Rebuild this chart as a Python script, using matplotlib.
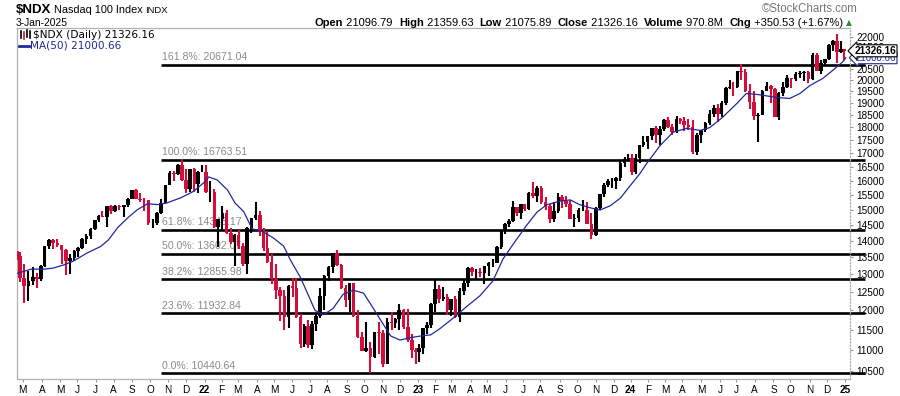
import numpy as np
import pandas as pd
import matplotlib
matplotlib.use('Agg')
import matplotlib.pyplot as plt
import matplotlib.transforms as mtransforms
from matplotlib.lines import Line2D
from matplotlib.offsetbox import TextArea, HPacker, AnchoredOffsetbox
from pandas.tseries.offsets import CustomBusinessDay
from pandas.tseries.holiday import (AbstractHolidayCalendar, Holiday, nearest_workday, sunday_to_monday,
                                    USMartinLutherKingJr, USPresidentsDay, GoodFriday, USMemorialDay,
                                    USLaborDay, USThanksgivingDay)

plt.rcParams['font.family'] = ['Liberation Sans', 'DejaVu Sans']

# weekly bars (week ending friday)
first_open = 13700
close21 = [13535,12909,12668,12819,12916,12870,13247,13845,14042,13945,13861,13720,13379,13471,13687,13773,
           14069,14142,14361,14659,14803,14773,15117,14959,15131,15106,15162,15375,15652,15363,15334,15314,
           14567,14579,14897,15225,15850,16280,16247,16573,16026,15712,16410,15880,16319,16320]
high21 = [13700,13660,13300,13100,13200,13050,13270,13850,14060,14060,14060,13870,13750,13600,13730,13800,
          14080,14200,14400,14660,14820,14960,15120,15150,15150,15150,15170,15380,15660,15700,15560,15390,
          15340,14700,14910,15360,15850,16350,16330,16600,16764,16410,16430,16450,16350,16573]
low21 = [13430,12780,12209,12250,12700,12600,12820,13200,13750,13750,13800,13300,12980,13000,13400,13500,
         13750,13900,14050,14350,14600,14750,14450,14850,14930,15000,14750,15100,15350,15350,15250,14950,
         14500,14400,14500,14850,15200,15840,15980,16200,16000,15570,15600,15600,15560,16300]

close22 = [15594,15612,14439,14707, 14876,14253,13980,14173, 13838,13301,14420,14716,
           14838,14289,13793,13358,12855, 12557,12387,11835,12681, 12621,11830,11132,11607,
           11128,11635,11847,12396,12948, 13207,13630,13257,12605, 12271,12746,11861,11311,10972,
           11038,10821,11431,11404, 10670,11700,11680,11786, 12001,11563,11246,10986,10940]
high22 = [16573,15970,15700,14710, 15120,15000,14400,14200, 14350,13920,14430,14720,
          15265,14950,14400,14300,13600, 13300,12630,12550,12690, 12900,12900,11900,11650,
          11760,11720,11900,12600,12970, 13250,13640,13720,13300, 12700,12760,12760,12000,11450,
          11700,11180,11450,11700, 11500,11800,11950,11800, 12170,12050,12040,11380,11050]
low22 = [15550,15250,14420,13800, 14300,14220,13900,13250, 13750,13250,13020,14250,
         14650,14150,13700,13330,12720, 12300,11730,11500,11550, 12370,11800,11040,11070,
         11050,11030,11460,11800,12000, 12800,13050,13240,12590, 12080,11950,11830,11280,10970,
         10950,10441,10800,10900, 10600,10650,11480,11550, 11500,11520,11180,10800,10670]

close23 = [11040,11541,11620,12167, 12573,12304,12359,12008, 12302,11830,12520,12767,13181,
           13062,13079,13030,13246, 13339,13341,13812,14298, 14547,14634,15084,14892,15179,
           15037,15566,15451,15755, 15274,15128,14695,14941, 15413,15290,15203,14701,14715,
           14987,14996,14542,14181, 15058,15520,15840,15983, 15997,16085,16624,16778,16826]
high23 = [11150,11550,11700,12200, 12880,12700,12650,12450, 12320,12400,12620,12850,13200,
          13200,13150,13190,13250, 13360,13460,13840,14330, 14550,14700,15285,15100,15200,
          15200,15600,15932,15800, 15800,15440,15200,15250, 15560,15500,15460,15320,14850,
          15050,15310,15250,14880, 15080,15530,15900,16050, 16090,16130,16700,16860,16970]
low23 = [10700,10900,11400,11540, 11950,12200,12250,11870, 11860,11800,11700,12420,12650,
         12950,12880,12920,12720, 12960,13200,13330,13740, 14200,14450,14600,14800,14700,
         14950,15000,15400,15250, 15190,14990,14560,14600, 14900,15050,15100,14680,14430,
         14600,14950,14520,14060, 14150,14980,15440,15780, 15750,15700,15980,16480,16700]

close24 = [16305,16832,17314,17421, 17643,17963,17685,17937, 18302,18019,17808,18339,18255,
           18108,18003,17037,17718, 17891,18161,18546,18808,18537, 19000,19659,19700,19683,
           20392,20332,19522,19023, 18440,18513,19509,19721,19575, 18421,19442,19701,20069,
           20035,20272,20325,20352, 20033,21118,20394,20744,20930, 21622,21780,21290,21393, 21326.16]
high24 = [16970,16970,17330,17650, 17670,17990,18040,18040, 18320,18420,18150,18460,18360,
          18400,18350,18300,17780, 17900,18200,18690,18900,18950, 19100,19700,20000,19900,
          20400,20690,20500,19800, 19500,18600,19550,19900,19750, 19650,19460,19900,20200,
          20100,20330,20400,20400, 20400,21200,21200,20900,20950, 21660,21850,22133,21800, 21400]
low24 = [16200,16250,16640,17250, 17140,17490,17400,17300, 17850,17990,17700,17780,18150,
         17850,17900,16970,16950, 17400,17800,18100,18400,18220, 18400,18900,19600,19300,
         19650,20000,19450,18750, 18300,17433,18500,19500,19000, 18400,18300,19300,19650,
         19650,19950,20100,19950, 19850,20000,20380,20250,20600, 20880,21300,20750,21200, 20900]

# MA(50) line
ma_dates = ['2021-02-19','2021-03-15','2021-04-06','2021-04-21','2021-05-07','2021-05-25','2021-06-17',
            '2021-07-12','2021-07-23','2021-08-09','2021-08-25','2021-09-10','2021-09-28','2021-10-14',
            '2021-10-29','2021-11-22','2021-12-14','2021-12-31',
            '2022-01-10','2022-01-25','2022-02-10','2022-02-24','2022-03-10','2022-03-24','2022-04-12',
            '2022-04-29','2022-05-17','2022-05-27','2022-06-15','2022-06-28','2022-07-12','2022-07-26',
            '2022-08-10','2022-08-26','2022-09-14','2022-09-30','2022-10-14','2022-10-28','2022-11-15',
            '2022-12-01','2022-12-19',
            '2023-01-06','2023-01-25','2023-02-09','2023-03-06','2023-03-28','2023-04-19','2023-05-10',
            '2023-05-26','2023-06-14','2023-07-10','2023-07-26','2023-08-10','2023-09-01','2023-09-20',
            '2023-10-05','2023-10-24','2023-11-08','2023-11-27','2023-12-13','2023-12-29',
            '2024-01-18','2024-01-30','2024-02-22','2024-03-14','2024-04-08','2024-04-30','2024-05-15',
            '2024-06-06','2024-07-02','2024-07-18','2024-08-06','2024-08-21','2024-09-09','2024-09-30',
            '2024-10-16','2024-11-01','2024-11-22','2024-12-11','2024-12-30','2025-01-03']
ma_vals = [13030,13150,13150,13180,13270,13390,13630,13830,14030,14420,14740,15000,15200,15170,15230,15400,
           15620,15920,
           16130,16020,15670,15220,14940,14380,14280,14090,13840,13420,12900,12470,12000,11890,12050,12440,
           12550,12470,12110,11750,11340,11240,11300,
           11340,11370,11530,11810,12120,12400,12810,13450,13900,14500,14920,15160,15290,15330,15170,15060,
           14990,15130,15390,15800,
           16250,16620,17300,17810,17960,17880,17990,18400,18980,19400,19360,19300,19230,19190,19400,19750,
           20060,20430,20830,21000.66]

fib_pct = ['161.8%', '100.0%', '61.8%', '50.0%', '38.2%', '23.6%', '0.0%']
fib_lvl = [20671.04, 16763.51, 14348.17, 13602.07, 12855.98, 11932.84, 10440.64]

last_close = 21326.16
last_ma = 21000.66
yticks = list(range(10500, 22001, 500))


class NyseCal(AbstractHolidayCalendar):
    rules = [Holiday('NewYear', month=1, day=1, observance=sunday_to_monday),
             USMartinLutherKingJr, USPresidentsDay, GoodFriday, USMemorialDay,
             Holiday('Juneteenth', month=6, day=19, start_date=pd.Timestamp('2022-06-01'), observance=nearest_workday),
             Holiday('July4', month=7, day=4, observance=nearest_workday),
             USLaborDay, USThanksgivingDay,
             Holiday('Christmas', month=12, day=25, observance=nearest_workday)]


days = pd.date_range('2021-02-19', '2025-01-03', freq=CustomBusinessDay(calendar=NyseCal()))
weeks = pd.date_range('2021-02-19', '2025-01-03', freq='W-FRI')

closes = np.array(close21 + close22 + close23 + close24, dtype=float)
highs = np.array(high21 + high22 + high23 + high24, dtype=float)
lows = np.array(low21 + low22 + low23 + low24, dtype=float)
opens = np.concatenate([[first_open], closes[:-1]])

xw = np.array([np.where((days > w - pd.Timedelta(days=5)) & (days <= w))[0].mean() for w in weeks])

fig = plt.figure(figsize=(9, 3.96), dpi=100)
ax = fig.add_axes([17/900, 1-379/396, 833/900, 351/396])
ax.set_yscale('log')

up = closes >= opens
red = '#d0103a'
cols = np.where(up, 'black', red)
ax.vlines(xw, lows, highs, colors=cols, lw=1.5, zorder=3)
ax.bar(xw, np.abs(closes-opens), bottom=np.minimum(opens, closes), width=4.2, color=cols, lw=0, zorder=3)

ma_x = np.searchsorted(days, pd.to_datetime(ma_dates))
ax.plot(ma_x, ma_vals, color='#1f2a99', lw=0.9, zorder=4)

# fibonacci levels
trans = mtransforms.blended_transform_factory(ax.transAxes, ax.transData)
for p, v in zip(fib_pct, fib_lvl):
    ax.plot([0.173, 1.018], [v, v], color='black', lw=1.9, transform=trans, clip_on=False, zorder=2,
            solid_capstyle='butt')
    ax.annotate(f'{p}: {v:.2f}', xy=(0.1735, v), xycoords=trans, xytext=(0, 1.8), textcoords='offset points',
                va='bottom', ha='left', fontsize=7.6, color='#8a8a8a', zorder=1)

ax.set_xlim(-0.5, 979)
ax.set_ylim(10311, 22430)

ax.yaxis.tick_right()
ax.set_yticks(yticks, labels=[str(t) for t in yticks])
ax.yaxis.set_minor_locator(matplotlib.ticker.NullLocator())
ax.tick_params(axis='y', labelsize=7.2, length=2.5, pad=2, color='#999999')

mstarts = pd.date_range('2021-03-01', '2025-01-01', freq='MS')
mx = np.searchsorted(days, mstarts)
mlab = [d.strftime('%y') if d.month == 1 else d.strftime('%b')[0] for d in mstarts]
ax.set_xticks(mx, labels=mlab)
for t, d in zip(ax.get_xticklabels(), mstarts):
    if d.month == 1:
        t.set_fontweight('bold')
        t.set_fontsize(8)
ax.tick_params(axis='x', labelsize=7.2, length=2.5, pad=2, color='#999999')

for s in ['left', 'top', 'bottom']:
    ax.spines[s].set_color('#b0b0b0')
    ax.spines[s].set_linewidth(0.9)
ax.spines['right'].set_color('#b0b0b0')
ax.spines['right'].set_linestyle(':')
ax.spines['right'].set_linewidth(0.9)

# price tags on the right scale
ax.annotate(f'{last_ma:.2f}', xy=(1, last_ma), xycoords=trans, xytext=(46, 0), textcoords='offset pixels',
            va='center', ha='right', fontsize=7.0, color='#1f2a99', annotation_clip=False, zorder=5,
            bbox=dict(boxstyle='larrow,pad=0.1', fc='white', ec='#1f2a99', lw=0.8))
ax.annotate(f'{last_close:.2f}', xy=(1, last_close), xycoords=trans, xytext=(46, 0), textcoords='offset pixels',
            va='center', ha='right', fontsize=7.2, fontweight='bold', color='black', annotation_clip=False,
            zorder=6, bbox=dict(boxstyle='larrow,pad=0.1', fc='white', ec='black', lw=0.8))

# legend inside the chart
fig.text(33/900, 1-35/396, f'$NDX (Daily) {last_close:.2f}', fontsize=7.6, family='DejaVu Sans',
         va='center', ha='left')
fig.text(30/900, 1-45.5/396, f'MA(50) {last_ma:.2f}', fontsize=7.6, family='DejaVu Sans',
         va='center', ha='left', color='#1f2a99')
fig.add_artist(Line2D([19/900, 29/900], [1-45.5/396]*2, color='#1f2a99', lw=2))
for xi, c, y0, y1 in [(20.5, 'black', 31, 38), (23.5, red, 32, 39), (26.5, 'black', 30, 37), (29.5, 'black', 31, 38)]:
    fig.add_artist(Line2D([xi/900]*2, [1-y0/396, 1-y1/396], color=c, lw=1.2))

# header
fig.text(16/900, 1-10/396, '$NDX', fontsize=9.5, fontweight='bold', va='center', ha='left')
fig.text(54/900, 1-10/396, 'Nasdaq 100 Index', fontsize=7.8, va='center', ha='left')
fig.text(145/900, 1-10.5/396, 'INDX', fontsize=6.8, va='center', ha='left')
fig.text(16/900, 1-22.5/396, '3-Jan-2025', fontsize=7.4, va='center', ha='left')
fig.text(810/900, 1-8.5/396, '\u00a9StockCharts.com', fontsize=8.3, va='center', ha='center', color='#777777')

info = [('Open', ' 21096.79  '), ('High', ' 21359.63  '), ('Low', ' 21075.89  '),
        ('Close', ' 21326.16  '), ('Volume', ' 970.8M  '), ('Chg', ' +350.53 (+1.67%) ')]
parts = []
for lab, val in info:
    parts.append(TextArea(lab, textprops=dict(fontsize=8, fontweight='bold')))
    parts.append(TextArea(val, textprops=dict(fontsize=8)))
parts.append(TextArea('\u25b2', textprops=dict(fontsize=5.5, color='#2e8b3e', family='DejaVu Sans')))
box = HPacker(children=parts, pad=0, sep=0, align='baseline')
fig.add_artist(AnchoredOffsetbox(loc='center right', child=box, pad=0, borderpad=0, frameon=False,
                                 bbox_to_anchor=(852/900, 1-22.5/396), bbox_transform=fig.transFigure))

fig.savefig('out.png', dpi=100)
